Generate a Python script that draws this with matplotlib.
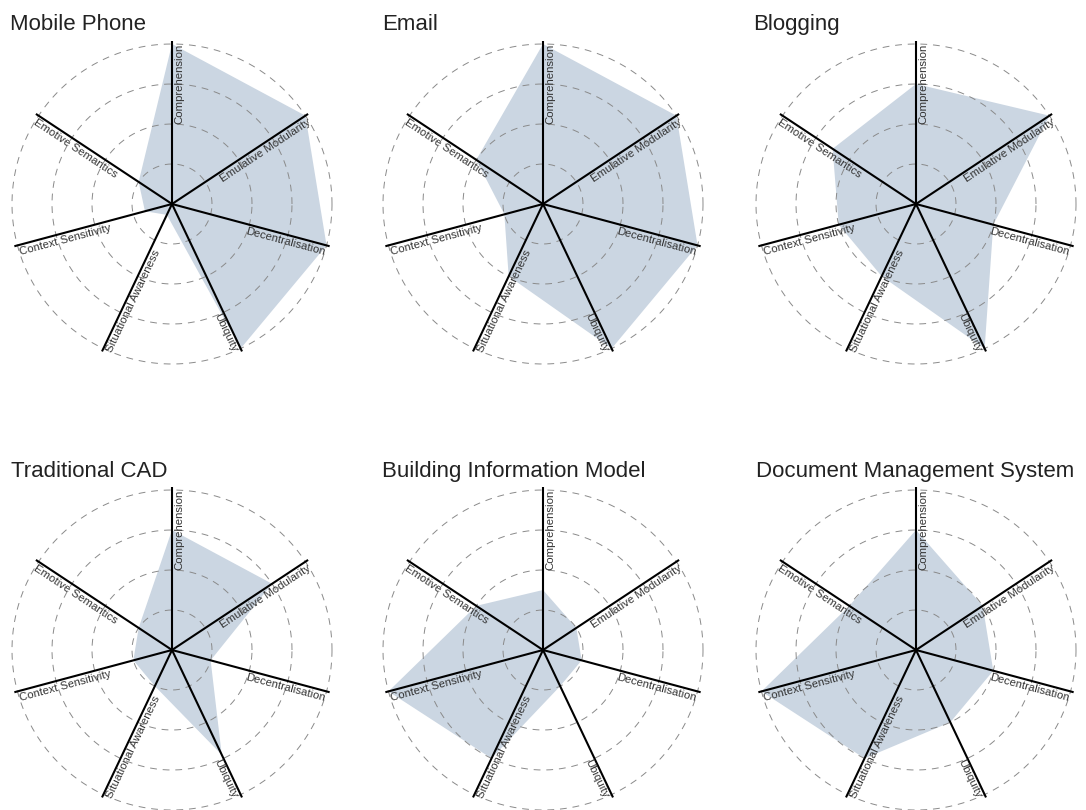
import numpy as np
import matplotlib
matplotlib.use("Agg")
from matplotlib import pyplot as plt

plt.rcParams['font.family'] = ['Liberation Sans', 'DejaVu Sans']

# axes of every radar, clockwise from the top
categories = ['Comprehension', 'Emulative Modularity', 'Decentralisation',
              'Ubiquity', 'Situational Awareness', 'Context Sensitivity',
              'Emotive Semantics']

titles = ['Mobile Phone', 'Email', 'Blogging',
          'Traditional CAD', 'Building Information Model',
          'Document Management System']

# scores 0..4, same order as categories
mobile_phone = [4, 4, 4, 4, 0.3, 0.7, 1]
email = [4, 4, 4, 4, 2, 1, 2]
blogging = [3, 4, 2, 4, 2, 2, 2.5]
traditional_cad = [3, 3, 1, 2.9, 1, 1, 1]
bim = [1.5, 1, 1, 1, 3, 4, 2]
dms = [3, 2, 2, 2, 3, 4, 2]

series = [mobile_phone, email, blogging, traditional_cad, bim, dms]

# layout
W, H = 1086, 810
rings = [1, 2, 3, 4]
rmax = 4
axis_len = 4.08
px_per_unit = 40
# axis directions in degrees (the original spreads them a bit unevenly)
angles = np.radians([90, 33.5, -15, -64.6, -115.4, -165, 146.5])
centers = [(172, 204), (543, 204), (916, 204),
           (172, 650), (543, 650), (916, 650)]
title_pos = [(10, 30), (382, 30), (753, 30),
             (11, 477), (382, 477), (756, 477)]

fill_color = '#cbd6e2'
ring_color = '#8a8a8a'
text_color = '#333333'
label_gap = 0.05  # gap between spoke and its label, data units

fig = plt.figure(figsize=(W / 100, H / 100), dpi=100)

half = 180  # half size of each axes box in px
lim = half / px_per_unit

for vals, title, (cx, cy), (tx, ty) in zip(series, titles, centers, title_pos):
    ax = fig.add_axes([(cx - half) / W, (H - cy - half) / H, 2 * half / W, 2 * half / H])
    ax.set_xlim(-lim, lim)
    ax.set_ylim(-lim, lim)
    ax.set_aspect('equal')
    ax.axis('off')

    # data polygon
    v = np.array(vals, dtype=float)
    ax.fill(v * np.cos(angles), v * np.sin(angles), color=fill_color, lw=0, zorder=1)

    # dashed rings
    t = np.linspace(0, 2 * np.pi, 400)
    for r in rings:
        ax.plot(r * np.cos(t), r * np.sin(t), color=ring_color, lw=0.7,
                linestyle=(0, (7, 6)), zorder=2)

    # spokes and labels
    for a, name in zip(angles, categories):
        ex, ey = axis_len * np.cos(a), axis_len * np.sin(a)
        ax.plot([0, ex], [0, ey], color='black', lw=1.5, zorder=3,
                solid_capstyle='butt')
        deg = np.degrees(a)
        if np.cos(a) > 1e-6 or abs(deg - 90) < 1e-6:
            rot, ha = deg, 'right'
        else:
            rot, ha = deg - 180, 'left'
        rr = np.radians(rot)
        lx = rmax * np.cos(a) + label_gap * np.sin(rr)
        ly = rmax * np.sin(a) - label_gap * np.cos(rr)
        ax.text(lx, ly, name, rotation=rot, rotation_mode='anchor',
                ha=ha, va='top', fontsize=8.2, color=text_color,
                zorder=4, clip_on=False)

    fig.text(tx / W, 1 - ty / H, title, ha='left', va='baseline',
             fontsize=16, color='#222222')

fig.savefig('out.png', dpi=100, facecolor='white')
